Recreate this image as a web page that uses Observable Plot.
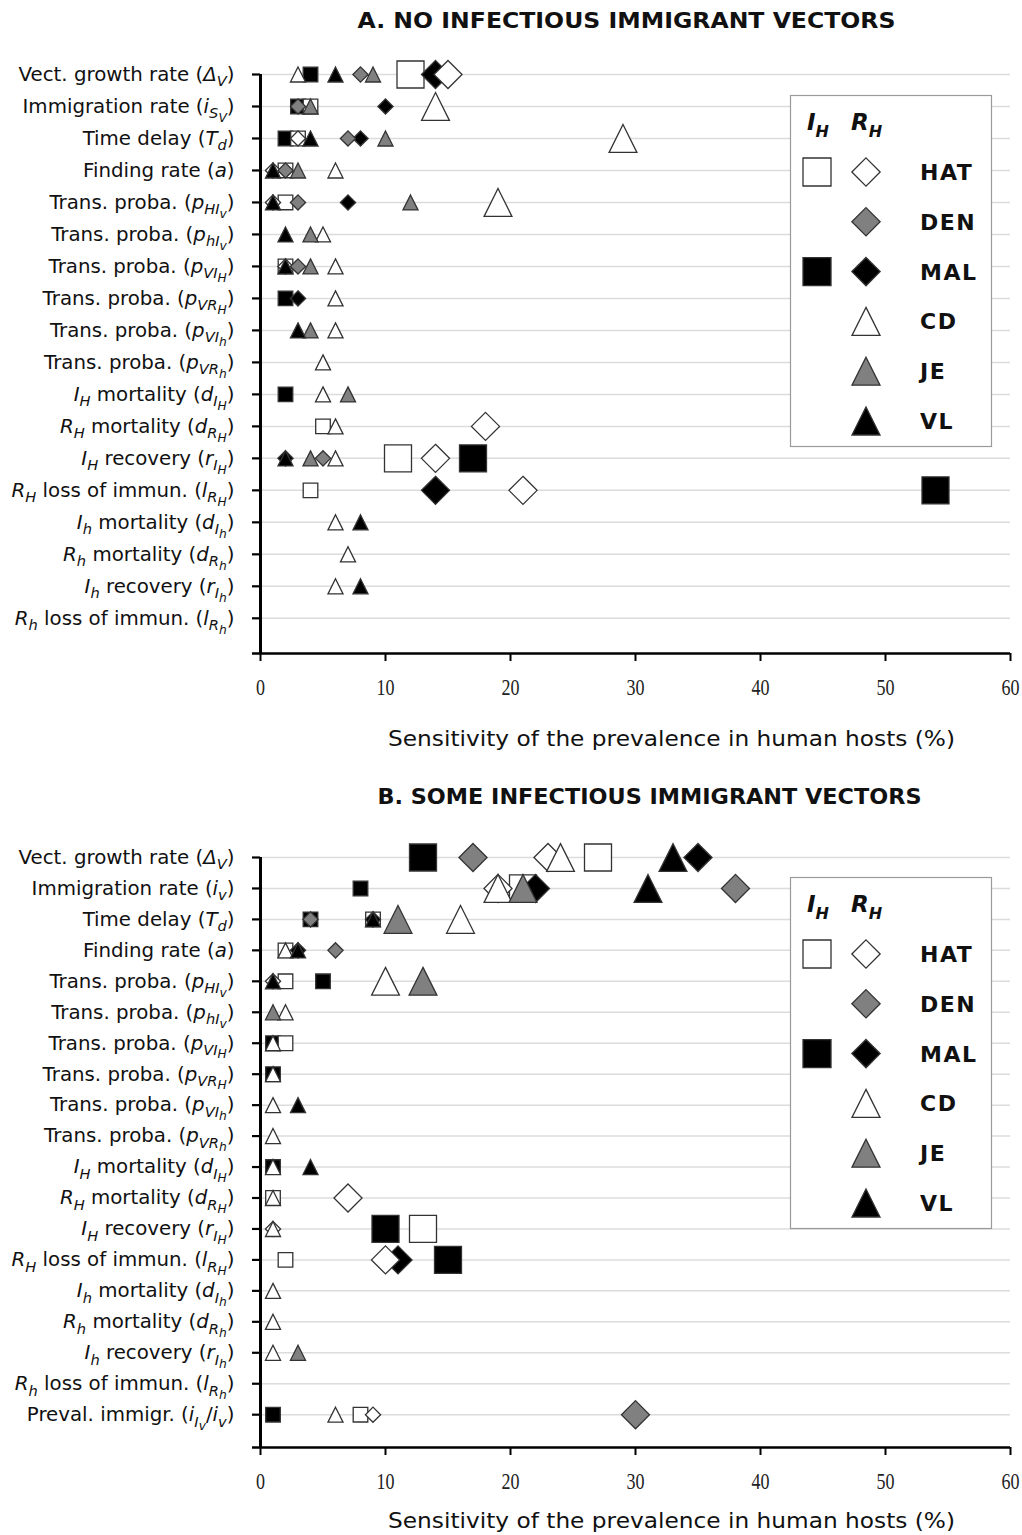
<!DOCTYPE html>
<html><head><meta charset="utf-8">
<script src="https://cdn.jsdelivr.net/npm/d3@7"></script>
<script src="https://cdn.jsdelivr.net/npm/@observablehq/plot@0.6"></script>
<style>
body{margin:0;background:#fff;}
#wrap{position:relative;width:1022px;height:1535px;overflow:hidden;}
#wrap svg{display:block;}
#legend{position:absolute;left:0;top:0;}
</style>
</head><body><div id="wrap"></div>
<script>
// ---------- DATA ----------
const xTicks = [0, 10, 20, 30, 40, 50, 60];
const xTitle = "Sensitivity of the prevalence in human hosts (%)";
const titleA = "A. NO INFECTIOUS IMMIGRANT VECTORS";
const titleB = "B. SOME INFECTIOUS IMMIGRANT VECTORS";

// markup: *x* italic, _{x} subscript, __{x} sub-subscript
const labelsA = [
  "Vect. growth rate (*Δ*_{V})",
  "Immigration rate (*i*_{S}__{V})",
  "Time delay (*T*_{d})",
  "Finding rate (*a*)",
  "Trans. proba. (*p*_{HI}__{v})",
  "Trans. proba. (*p*_{hI}__{v})",
  "Trans. proba. (*p*_{VI}__{H})",
  "Trans. proba. (*p*_{VR}__{H})",
  "Trans. proba. (*p*_{VI}__{h})",
  "Trans. proba. (*p*_{VR}__{h})",
  "*I*_{H} mortality (*d*_{I}__{H})",
  "*R*_{H} mortality (*d*_{R}__{H})",
  "*I*_{H} recovery (*r*_{I}__{H})",
  "*R*_{H} loss of immun. (*l*_{R}__{H})",
  "*I*_{h} mortality (*d*_{I}__{h})",
  "*R*_{h} mortality (*d*_{R}__{h})",
  "*I*_{h} recovery (*r*_{I}__{h})",
  "*R*_{h} loss of immun. (*l*_{R}__{h})"
];
const labelsB = [
  "Vect. growth rate (*Δ*_{V})",
  "Immigration rate (*i*_{v})",
  "Time delay (*T*_{d})",
  "Finding rate (*a*)",
  "Trans. proba. (*p*_{HI}__{v})",
  "Trans. proba. (*p*_{hI}__{v})",
  "Trans. proba. (*p*_{VI}__{H})",
  "Trans. proba. (*p*_{VR}__{H})",
  "Trans. proba. (*p*_{VI}__{h})",
  "Trans. proba. (*p*_{VR}__{h})",
  "*I*_{H} mortality (*d*_{I}__{H})",
  "*R*_{H} mortality (*d*_{R}__{H})",
  "*I*_{H} recovery (*r*_{I}__{H})",
  "*R*_{H} loss of immun. (*l*_{R}__{H})",
  "*I*_{h} mortality (*d*_{I}__{h})",
  "*R*_{h} mortality (*d*_{R}__{h})",
  "*I*_{h} recovery (*r*_{I}__{h})",
  "*R*_{h} loss of immun. (*l*_{R}__{h})",
  "Preval. immigr. (*i*_{I}__{v}/*i*_{v})"
];

// series draw order
const seriesKeys  = ["MAL-IH", "HAT-IH", "MAL-RH", "HAT-RH", "DEN", "CD", "JE", "VL"];
const seriesFill  = ["#000", "#fff", "#000", "#fff", "#808080", "#fff", "#808080", "#000"];
const seriesShape = ["square", "square", "diamond", "diamond", "diamond", "triangle", "triangle", "triangle"];

// [row, sensitivity %, large marker (1) or small (0)]
const A_MAL_IH = [[0,4,0],[1,3,0],[2,2,0],[7,2,0],[10,2,0],[12,17,1],[13,54,1]];
const A_HAT_IH = [[0,12,1],[1,4,0],[2,3,0],[3,2,0],[4,2,0],[6,2,0],[11,5,0],[12,11,1],[13,4,0]];
const A_MAL_RH = [[0,14,1],[1,10,0],[2,8,0],[4,7,0],[7,3,0],[12,2,0],[13,14,1]];
const A_HAT_RH = [[0,15,1],[2,3,0],[3,1,0],[4,1,0],[6,2,0],[11,18,1],[12,14,1],[13,21,1]];
const A_DEN    = [[0,8,0],[1,3,0],[2,7,0],[3,2,0],[4,3,0],[6,3,0],[12,5,0]];
const A_CD     = [[0,3,0],[1,14,1],[2,29,1],[3,6,0],[4,19,1],[5,5,0],[6,6,0],[7,6,0],[8,6,0],[9,5,0],[10,5,0],[11,6,0],[12,6,0],[14,6,0],[15,7,0],[16,6,0]];
const A_JE     = [[0,9,0],[1,4,0],[2,10,0],[3,3,0],[4,12,0],[5,4,0],[6,4,0],[8,4,0],[10,7,0],[12,4,0]];
const A_VL     = [[0,6,0],[2,4,0],[3,1,0],[4,1,0],[5,2,0],[6,2,0],[8,3,0],[12,2,0],[14,8,0],[16,8,0]];

const B_MAL_IH = [[0,13,1],[1,8,0],[2,4,0],[4,5,0],[6,1,0],[7,1,0],[10,1,0],[12,10,1],[13,15,1],[18,1,0]];
const B_HAT_IH = [[0,27,1],[1,21,1],[2,9,0],[3,2,0],[4,2,0],[6,2,0],[11,1,0],[12,13,1],[13,2,0],[18,8,0]];
const B_MAL_RH = [[0,35,1],[1,22,1],[2,9,0],[3,3,0],[13,11,1]];
const B_HAT_RH = [[0,23,1],[1,19,1],[4,1,0],[11,7,1],[12,1,0],[13,10,1],[18,9,0]];
const B_DEN    = [[0,17,1],[1,38,1],[2,4,0],[3,6,0],[18,30,1]];
const B_CD     = [[0,24,1],[1,19,1],[2,16,1],[3,2,0],[4,10,1],[5,2,0],[6,1,0],[7,1,0],[8,1,0],[9,1,0],[10,1,0],[11,1,0],[12,1,0],[14,1,0],[15,1,0],[16,1,0],[18,6,0]];
const B_JE     = [[1,21,1],[2,11,1],[4,13,1],[5,1,0],[16,3,0]];
const B_VL     = [[0,33,1],[1,31,1],[2,9,0],[3,3,0],[4,1,0],[8,3,0],[10,4,0]];

const yMaxA = 18.1;   // bottom of the category axis (panel A)
const yMaxB = 19.06;  // bottom of the category axis (panel B)

// ---------- SYMBOLS ----------
function rad(size){ return Math.sqrt(size / Math.PI); }
const SYM = {
  square:  {draw(c, s){ const r = rad(s); c.moveTo(-r,-r); c.lineTo(r,-r); c.lineTo(r,r); c.lineTo(-r,r); c.closePath(); }},
  diamond: {draw(c, s){ const r = rad(s)*1.04; c.moveTo(0,-r); c.lineTo(r,0); c.lineTo(0,r); c.lineTo(-r,0); c.closePath(); }},
  triangle:{draw(c, s){ const r = rad(s)*1.03; c.moveTo(0,-r); c.lineTo(r,r); c.lineTo(-r,r); c.closePath(); }}
};

// ---------- HELPERS ----------
const NS = "http://www.w3.org/2000/svg";
const LABEL_FS = 19.8;
function richText(el, markup, fs){
  while (el.firstChild) el.removeChild(el.firstChild);
  const parts = markup.split(/(\*[^*]+\*|__\{[^}]+\}|_\{[^}]+\})/g).filter(s => s);
  let cur = 0;
  for (const p of parts){
    let txt = p, it = false, lvl = 0;
    if (p.startsWith("*")) { txt = p.slice(1,-1); it = true; }
    else if (p.startsWith("__{")) { txt = p.slice(3,-1); it = true; lvl = 2; }
    else if (p.startsWith("_{")) { txt = p.slice(2,-1); it = true; lvl = 1; }
    const off = [0, fs*0.28, fs*0.45][lvl];
    const size = [fs, fs*0.74, fs*0.62][lvl];
    const t = document.createElementNS(NS, "tspan");
    t.setAttribute("dy", (off - cur).toFixed(2));
    cur = off;
    t.setAttribute("font-size", size.toFixed(2));
    if (it) t.setAttribute("font-style", "italic");
    t.textContent = txt;
    el.appendChild(t);
  }
}

function points(seriesArrays){
  const out = [];
  seriesKeys.forEach((k, i) => {
    for (const [row, value, big] of seriesArrays[i]) out.push({series: k, row, value, big});
  });
  return out;
}

function panel(cfg){
  const rows = d3.range(cfg.labels.length);
  const svg = Plot.plot({
    width: 1022, height: cfg.height,
    marginLeft: 260, marginRight: 12, marginTop: cfg.marginTop, marginBottom: cfg.marginBottom,
    style: {fontFamily: "DejaVu Sans", background: "#fff", color: "#000", overflow: "visible"},
    x: {domain: [0, 60], axis: null},
    y: {domain: [0, cfg.yMax], reverse: true, axis: null},
    r: {type: "linear", domain: [0, 1], range: [7.3, 13.5]},
    color: {domain: seriesKeys, range: seriesFill},
    symbol: {domain: seriesKeys, range: seriesShape.map(s => SYM[s])},
    marks: [
      Plot.ruleY(rows, {y: d => d, stroke: "#dcdcdc", strokeWidth: 1.5}),
      Plot.ruleY(rows, {y: d => d, x1: 0, x2: 0, insetLeft: -8, stroke: "#000", strokeWidth: 2.2}),
      Plot.ruleY([cfg.yMax], {y: d => d, insetLeft: -8, stroke: "#000", strokeWidth: 2.5}),
      Plot.ruleX([0], {x: d => d, y1: 0, y2: cfg.yMax, stroke: "#000", strokeWidth: 3}),
      Plot.ruleX(xTicks, {x: d => d, y1: cfg.yMax, y2: cfg.yMax, insetBottom: -8, stroke: "#000", strokeWidth: 2}),
      Plot.text(xTicks, {x: d => d, text: d => String(d), frameAnchor: "bottom", lineAnchor: "middle", dy: 34,
        fontFamily: "Liberation Serif", fontSize: 24, fill: "#222"}),
      Plot.text(cfg.labels, {y: (d, i) => i, text: d => d, frameAnchor: "left", lineAnchor: "middle",
        textAnchor: "end", dx: -26, fontSize: LABEL_FS, fill: "#111"}),
      Plot.dot(cfg.points, {x: "value", y: "row", r: "big", fill: "series", symbol: "series",
        stroke: "#333", strokeWidth: 1.3, sort: null}),
      Plot.text([cfg.title], {text: d => d, frameAnchor: "top", lineAnchor: "middle", dy: cfg.titleDy, dx: cfg.titleDx,
        fontWeight: "bold", fontSize: 21, fill: "#111"}),
      Plot.text([xTitle], {text: d => d, frameAnchor: "bottom", lineAnchor: "middle", dy: cfg.xTitleDy, dx: 36,
        fontSize: 22, fill: "#111"})
    ]
  });
  const tickSet = new Set(xTicks.map(String));
  svg.querySelectorAll("text").forEach(el => {
    const s = el.textContent;
    const li = cfg.labels.indexOf(s);
    if (li >= 0) { richText(el, s, LABEL_FS); return; }
    if (tickSet.has(s)) {
      el.setAttribute("textLength", 9 * s.length);
      el.setAttribute("lengthAdjust", "spacingAndGlyphs");
    } else if (s === cfg.title) {
      el.setAttribute("textLength", cfg.titleLen);
      el.setAttribute("lengthAdjust", "spacingAndGlyphs");
    } else if (s === xTitle) {
      el.setAttribute("textLength", 567);
      el.setAttribute("lengthAdjust", "spacingAndGlyphs");
    }
  });
  return svg;
}

const wrap = document.getElementById("wrap");
wrap.appendChild(panel({
  labels: labelsA, height: 780, marginTop: 74, marginBottom: 127, yMax: yMaxA,
  points: points([A_MAL_IH, A_HAT_IH, A_MAL_RH, A_HAT_RH, A_DEN, A_CD, A_JE, A_VL]),
  title: titleA, titleDy: -53, titleDx: -9, titleLen: 538, xTitleDy: 85
}));
wrap.appendChild(panel({
  labels: labelsB, height: 755, marginTop: 77, marginBottom: 88, yMax: yMaxB,
  points: points([B_MAL_IH, B_HAT_IH, B_MAL_RH, B_HAT_RH, B_DEN, B_CD, B_JE, B_VL]),
  title: titleB, titleDy: -60, titleDx: 14, titleLen: 544, xTitleDy: 73
}));

// ---------- LEGENDS ----------
const legendItems = [
  {label: "HAT", sq: "#fff", mk: "diamond", fill: "#fff"},
  {label: "DEN", sq: null,   mk: "diamond", fill: "#808080"},
  {label: "MAL", sq: "#000", mk: "diamond", fill: "#000"},
  {label: "CD",  sq: null,   mk: "triangle", fill: "#fff"},
  {label: "JE",  sq: null,   mk: "triangle", fill: "#808080"},
  {label: "VL",  sq: null,   mk: "triangle", fill: "#000"}
];
const leg = d3.select(wrap).append("svg").attr("id", "legend")
  .attr("width", 1022).attr("height", 1535).attr("font-family", "DejaVu Sans");
function symPath(name, r){ const p = d3.path(); SYM[name].draw(p, Math.PI*r*r); return p.toString(); }
for (const top of [95, 877]){
  const g = leg.append("g").attr("transform", `translate(0,${top})`);
  g.append("rect").attr("x", 790.5).attr("y", 0.5).attr("width", 201).attr("height", 351)
    .attr("fill", "#fff").attr("stroke", "#9a9a9a").attr("stroke-width", 1.2);
  for (const [x, L] of [[807, "I"], [851, "R"]]){
    const t = g.append("text").attr("x", x).attr("y", 27).attr("dy", "0.35em")
      .attr("font-weight", "bold").attr("font-style", "italic").attr("font-size", 23).attr("fill", "#111");
    t.append("tspan").text(L);
    t.append("tspan").attr("dy", 7).attr("font-size", 16).text("H");
  }
  legendItems.forEach((it, i) => {
    const y = 77 + i * 49.8;
    if (it.sq) g.append("path").attr("d", symPath("square", 14)).attr("transform", `translate(817,${y})`)
      .attr("fill", it.sq).attr("stroke", "#333").attr("stroke-width", 1.3);
    g.append("path").attr("d", symPath(it.mk, 13.6)).attr("transform", `translate(866,${y})`)
      .attr("fill", it.fill).attr("stroke", "#333").attr("stroke-width", 1.3);
    g.append("text").attr("x", 920).attr("y", y).attr("dy", "0.36em")
      .attr("font-weight", "bold").attr("font-size", 22).attr("fill", "#111")
      .attr("letter-spacing", 1.5).text(it.label);
  });
}
</script>
</body></html>
